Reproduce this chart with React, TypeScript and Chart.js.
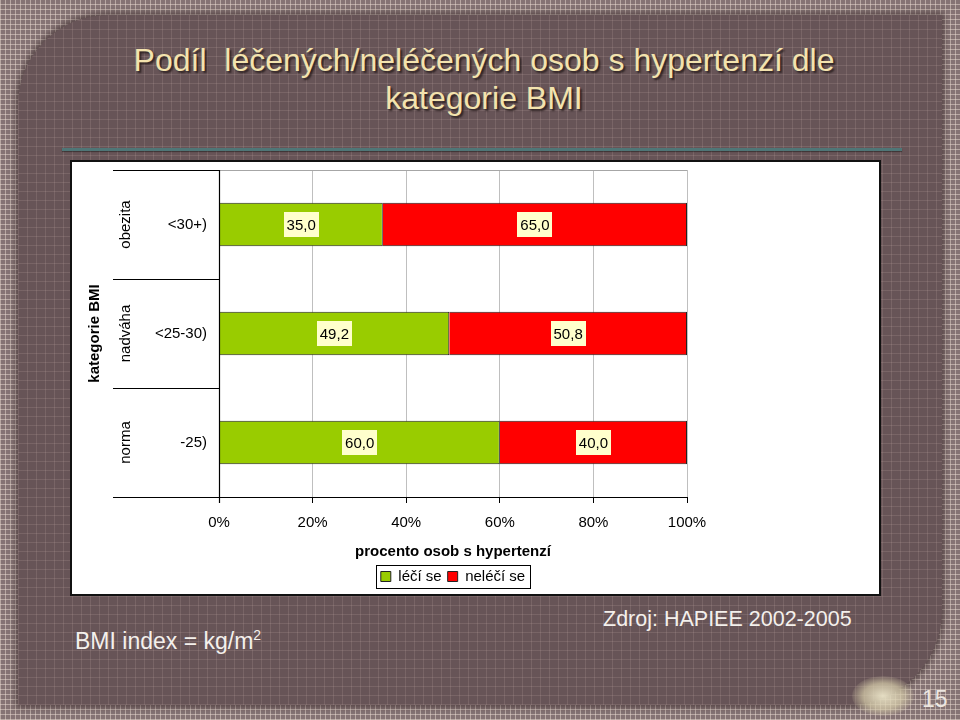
import React, { useEffect, useRef } from "react";
import { Chart, registerables } from "chart.js";
Chart.register(...registerables);

const categories = ["obezita", "nadváha", "norma"];
const ranges = ["<30+)", "<25-30)", "-25)"];
const treated = [35.0, 49.2, 60.0];
const untreated = [65.0, 50.8, 40.0];
const seriesNames = ["léčí se", "neléčí se"];
const seriesColors = ["#99CC00", "#FF0000"];
const groupTitle = "kategorie BMI";
const xAxisTitle = "procento osob s hypertenzí";
const titleLines = ["Podíl  léčených/neléčených osob s hypertenzí dle", "kategorie BMI"];

const FONT = "'Liberation Sans', Arial, Helvetica, sans-serif";

const framePlugin = {
  id: "frame",
  afterDatasetsDraw(chart: any) {
    const { ctx, chartArea: a } = chart;
    const n = categories.length;
    const band = (a.bottom - a.top) / n;
    const sepLeft = a.left - 106;
    ctx.save();
    ctx.lineWidth = 1;
    ctx.strokeStyle = "#a6a6a6";
    ctx.beginPath();
    ctx.moveTo(a.left, a.top + 0.5);
    ctx.lineTo(a.right, a.top + 0.5);
    ctx.stroke();
    ctx.strokeStyle = "#000";
    ctx.lineWidth = 1.2;
    for (let i = 0; i <= n; i++) {
      const yy = Math.round(a.top + i * band) + 0.5;
      ctx.beginPath();
      ctx.moveTo(sepLeft, yy);
      ctx.lineTo(i === n ? a.right : a.left, yy);
      ctx.stroke();
    }
    ctx.beginPath();
    ctx.moveTo(a.left + 0.5, a.top);
    ctx.lineTo(a.left + 0.5, a.bottom + 6);
    ctx.stroke();
    ctx.fillStyle = "#000";
    ctx.font = `15px ${FONT}`;
    ctx.textBaseline = "middle";
    for (let i = 0; i < n; i++) {
      const cy = a.top + (i + 0.5) * band;
      ctx.textAlign = "right";
      ctx.fillText(ranges[i], a.left - 12, cy);
      ctx.save();
      ctx.translate(a.left - 93, cy);
      ctx.rotate(-Math.PI / 2);
      ctx.textAlign = "center";
      ctx.fillText(categories[i], 0, 0);
      ctx.restore();
    }
    ctx.save();
    ctx.font = `bold 15px ${FONT}`;
    ctx.translate(a.left - 124, (a.top + a.bottom) / 2);
    ctx.rotate(-Math.PI / 2);
    ctx.textAlign = "center";
    ctx.fillText(groupTitle, 0, 0);
    ctx.restore();
    ctx.font = `15px ${FONT}`;
    chart.data.datasets.forEach((ds: any, di: number) => {
      const meta = chart.getDatasetMeta(di);
      meta.data.forEach((el: any, i: number) => {
        const p = el.getProps(["x", "base", "y"], true);
        const cx = (p.x + p.base) / 2;
        const txt = Number(ds.data[i]).toFixed(1).replace(".", ",");
        const w = ctx.measureText(txt).width + 6;
        const h = 25;
        ctx.fillStyle = "#FFFFCC";
        ctx.fillRect(Math.round(cx - w / 2), Math.round(p.y - h / 2), Math.round(w), h);
        ctx.fillStyle = "#000";
        ctx.textAlign = "center";
        ctx.fillText(txt, cx, p.y + 1);
      });
    });
    const lg = chart.legend;
    if (lg && lg.legendHitBoxes && lg.legendHitBoxes.length) {
      let x0 = Infinity, y0 = Infinity, x1 = -Infinity, y1 = -Infinity;
      lg.legendHitBoxes.forEach((b: any) => {
        x0 = Math.min(x0, b.left);
        y0 = Math.min(y0, b.top);
        x1 = Math.max(x1, b.left + b.width);
        y1 = Math.max(y1, b.top + b.height);
      });
      ctx.strokeStyle = "#000";
      ctx.lineWidth = 1;
      ctx.strokeRect(Math.round(x0 - 5) + 0.5, Math.round(y0 - 4) + 0.5, Math.round(x1 - x0 + 10), Math.round(y1 - y0 + 8));
    }
    ctx.restore();
  },
};

function BarChart() {
  const ref = useRef<HTMLCanvasElement>(null);
  useEffect(() => {
    const c = new Chart(ref.current as HTMLCanvasElement, {
      type: "bar",
      data: {
        labels: categories,
        datasets: [
          { label: seriesNames[0], data: treated, backgroundColor: seriesColors[0], borderColor: "#222", borderWidth: 1, categoryPercentage: 1, barPercentage: 0.4 },
          { label: seriesNames[1], data: untreated, backgroundColor: seriesColors[1], borderColor: "#222", borderWidth: 1, categoryPercentage: 1, barPercentage: 0.4 },
        ],
      },
      options: {
        indexAxis: "y",
        animation: false,
        responsive: false,
        maintainAspectRatio: false,
        layout: { padding: { left: 147, right: 192, top: 8, bottom: 0 } },
        scales: {
          x: {
            stacked: true,
            min: 0,
            max: 100,
            border: { display: false },
            grid: { color: "#bfbfbf", tickColor: "#000", tickLength: 6, drawTicks: true },
            ticks: { stepSize: 20, color: "#000", font: { family: FONT, size: 15 }, padding: 11, callback: (v: any) => v + "%" },
            title: { display: true, text: xAxisTitle, color: "#000", font: { family: FONT, size: 15, weight: "bold" }, padding: { top: 0, bottom: 2 } },
          },
          y: { stacked: true, display: false },
        },
        plugins: {
          legend: {
            position: "bottom",
            fullSize: false,
            labels: { boxWidth: 10, boxHeight: 10, color: "#000", font: { family: FONT, size: 15 }, padding: 6 },
          },
          tooltip: { enabled: false },
          title: { display: false },
        },
      },
      plugins: [framePlugin],
    } as any);
    return () => c.destroy();
  }, []);
  return <canvas ref={ref} width={807} height={432} style={{ display: "block", width: 807, height: 432 }} />;
}

export default function App() {
  const outerGrid =
    "repeating-linear-gradient(0deg, rgba(235,220,210,0.5) 0 1px, transparent 1px 5px), repeating-linear-gradient(90deg, rgba(235,220,210,0.5) 0 1px, transparent 1px 5px)";
  const innerGrid =
    "repeating-linear-gradient(0deg, rgba(200,175,170,0.18) 0 1px, transparent 1px 9px), repeating-linear-gradient(90deg, rgba(200,175,170,0.18) 0 1px, transparent 1px 9px)";
  return (
    <div style={{ position: "fixed", left: 0, top: 0, width: 960, height: 720, overflow: "hidden", background: "#857374", backgroundImage: outerGrid, fontFamily: FONT }}>
      <div style={{ position: "absolute", left: 18, top: 15, width: 924, height: 690, background: "#675457", backgroundImage: innerGrid, borderRadius: "90px 0 95px 0", boxShadow: "0 0 6px 2px rgba(40,25,25,0.55)" }} />
      <div style={{ position: "absolute", left: 4, width: 960, top: 41, textAlign: "center", color: "#F3E3AE", fontSize: 32, lineHeight: "38px", textShadow: "2px 2px 2px rgba(30,20,20,0.8)" }}>
        <div style={{ whiteSpace: "pre" }}>{titleLines[0]}</div>
        <div>{titleLines[1]}</div>
      </div>
      <div style={{ position: "absolute", left: 62, top: 148, width: 840, height: 3, background: "#4f7677", boxShadow: "0 1px 1px rgba(20,20,20,0.5)" }} />
      <div style={{ position: "absolute", left: 70, top: 160, width: 811, height: 436, boxSizing: "border-box", border: "2px solid #111", background: "#fff" }}>
        <BarChart />
      </div>
      <div style={{ position: "absolute", left: 75, top: 627, color: "#F4F0EC", fontSize: 23 }}>
        BMI index = kg/m<sup style={{ fontSize: 14 }}>2</sup>
      </div>
      <div style={{ position: "absolute", left: 603, top: 607, color: "#F4F0EC", fontSize: 21.5 }}>Zdroj: HAPIEE 2002-2005</div>
      <div style={{ position: "absolute", left: 852, top: 676, width: 62, height: 40, borderRadius: "50%", background: "radial-gradient(ellipse at center, rgba(235,228,200,0.95) 0%, rgba(215,205,170,0.7) 45%, rgba(200,190,160,0) 75%)" }} />
      <div style={{ position: "absolute", left: 922, top: 686, color: "#ECE6E0", fontSize: 23 }}>15</div>
    </div>
  );
}
